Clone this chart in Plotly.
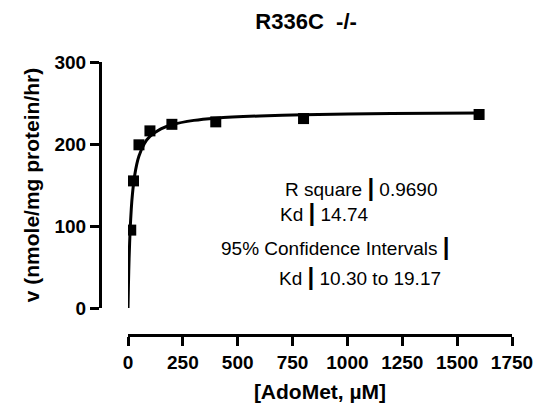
import plotly.graph_objects as go

# measured data points
adomet_uM = [12.5, 25, 50, 100, 200, 400, 800, 1600]
velocity = [95, 155, 199, 216, 224, 227, 231, 236]

# fitted curve (one-site binding)
curve_x = [0, 2, 5, 10, 15, 20, 30, 40, 50, 75, 100, 150, 200, 300, 400, 600, 800, 1200, 1600]
curve_y = [0, 28.7, 60.8, 97.0, 121.0, 138.2, 160.9, 175.4, 185.4, 200.6, 209.2,
           218.5, 223.5, 228.8, 231.5, 234.2, 235.7, 237.1, 237.8]

x_ticks = [0, 250, 500, 750, 1000, 1250, 1500, 1750]
y_ticks = [0, 100, 200, 300]

title_text = "R336C  -/-"
x_title = "[AdoMet, µM]"
y_title = "v (nmole/mg protein/hr)"

FONT = "Arial, 'Liberation Sans', Helvetica, sans-serif"
BAR = "<span style='font-size:24px;font-weight:bold'>|</span>"

table_rows = [
    ("R square " + BAR + " 0.9690", 706, 147),
    ("Kd " + BAR + " 14.74", 684, 116),
    ("95% Confidence Intervals " + BAR, 415, 75),
    ("Kd " + BAR + " 10.30 to 19.17", 679, 38),
]

fig = go.Figure()
fig.add_trace(go.Scatter(x=curve_x, y=curve_y, mode="lines",
                         line=dict(color="black", width=3, shape="spline", smoothing=0.6),
                         hoverinfo="skip", showlegend=False))
fig.add_trace(go.Scatter(x=adomet_uM, y=velocity, mode="markers",
                         marker=dict(symbol="square", size=11, color="black"),
                         showlegend=False))

for txt, xv, yv in table_rows:
    fig.add_annotation(x=xv, y=yv, xref="x", yref="y", text=txt, showarrow=False,
                       xanchor="left", yanchor="middle",
                       font=dict(family=FONT, size=19, color="black"))

# page body has an 8px margin, so the figure is 548x400 and sits at (8, 8)
fig.update_layout(
    width=548, height=400,
    margin=dict(l=92, r=44, t=54, b=73, autoexpand=False),
    paper_bgcolor="white", plot_bgcolor="white",
    font=dict(family=FONT, color="black"),
    title=dict(text=title_text, x=0.544, xanchor="center", y=0.968, yanchor="middle",
               font=dict(family=FONT, size=22, color="black", weight="bold")),
    xaxis=dict(range=[0, 1750], domain=[28 / 412, 1], anchor="free", position=0,
               automargin=False,
               tickvals=x_ticks, ticktext=[str(v) for v in x_ticks],
               showline=True, linecolor="black", linewidth=3,
               ticks="outside", ticklen=9, tickwidth=3, tickcolor="black",
               showgrid=False, zeroline=False,
               tickfont=dict(family=FONT, size=19, color="black", weight="bold"),
               title=dict(text=x_title, standoff=12,
                          font=dict(family=FONT, size=21, color="black", weight="bold"))),
    yaxis=dict(range=[0, 300], domain=[27 / 273, 1], anchor="free", position=0,
               automargin=False,
               tickvals=y_ticks, ticktext=[str(v) for v in y_ticks],
               showline=True, linecolor="black", linewidth=3,
               ticks="outside", ticklen=9, tickwidth=3, tickcolor="black",
               showgrid=False, zeroline=False,
               tickfont=dict(family=FONT, size=19, color="black", weight="bold"),
               title=dict(text=y_title, standoff=8,
                          font=dict(family=FONT, size=21, color="black", weight="bold"))),
)

fig.write_html("out.html")
